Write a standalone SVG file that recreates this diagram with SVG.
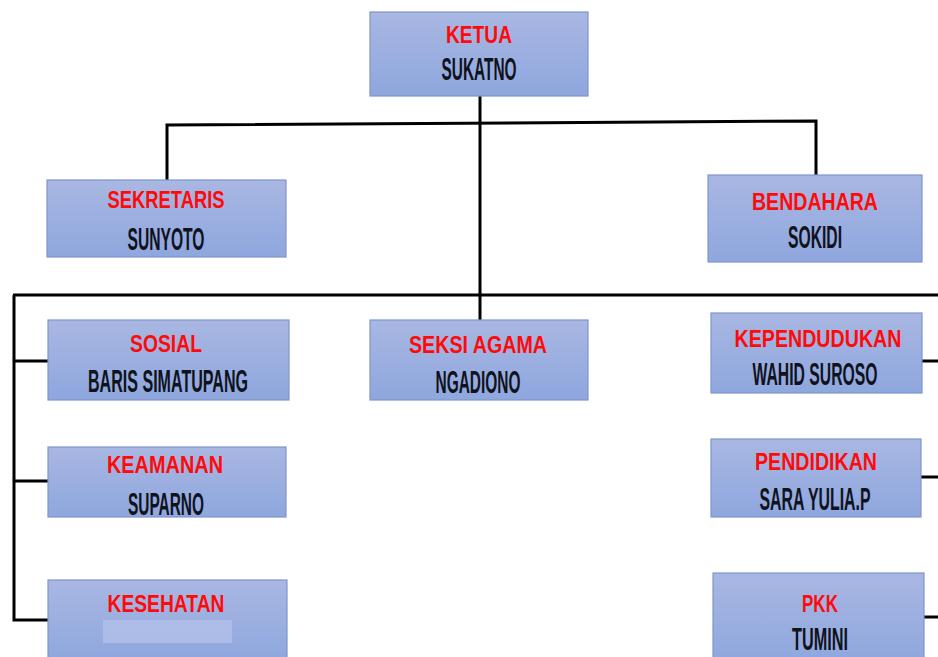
<svg xmlns="http://www.w3.org/2000/svg" width="938" height="657" viewBox="0 0 938 657">
<defs>
<linearGradient id="bg" x1="0" y1="0" x2="0" y2="1">
<stop offset="0" stop-color="#a9b7e2"/>
<stop offset="1" stop-color="#8ea7de"/>
</linearGradient>
<style>
.box{fill:url(#bg);stroke:#7f95cc;stroke-width:1.2}
.t{font-family:"Liberation Sans",Arial,sans-serif;font-weight:bold;font-size:24px;fill:#ff0a0a;text-anchor:middle}
.n{font-family:"Liberation Sans",Arial,sans-serif;font-weight:bold;font-size:32px;fill:#10121c;text-anchor:middle}
.c{fill:none;stroke:#000;stroke-width:3;stroke-linejoin:miter}
</style>
</defs>
<rect width="938" height="657" fill="#fff"/>
<g id="connectors">
<line class="c" x1="480" y1="96" x2="480" y2="320"/>
<polyline class="c" points="167,180 167,125 816,121 816,175"/>
<line class="c" x1="13" y1="295" x2="938" y2="295"/>
<polyline class="c" points="14,295 14,620 48,620"/>
<line class="c" x1="14" y1="361" x2="48" y2="361"/>
<line class="c" x1="14" y1="481" x2="48" y2="481"/>
<line class="c" x1="922" y1="361" x2="938" y2="361"/>
<line class="c" x1="921" y1="477" x2="938" y2="477"/>
<line class="c" x1="924" y1="617" x2="938" y2="617"/>
</g>
<g id="ketua">
<rect class="box" x="370" y="12" width="218" height="84"/>
<text class="t" x="479" y="43" textLength="66" lengthAdjust="spacingAndGlyphs">KETUA</text>
<text class="n" transform="translate(479,80) scale(0.5,1)" textLength="150" lengthAdjust="spacingAndGlyphs">SUKATNO</text>
</g>
<g id="sekretaris">
<rect class="box" x="47" y="180" width="239" height="77"/>
<text class="t" x="166" y="208" textLength="117" lengthAdjust="spacingAndGlyphs">SEKRETARIS</text>
<text class="n" transform="translate(166,250) scale(0.5,1)" textLength="154" lengthAdjust="spacingAndGlyphs">SUNYOTO</text>
</g>
<g id="bendahara">
<rect class="box" x="708" y="175" width="214" height="87"/>
<text class="t" x="815" y="210" textLength="126" lengthAdjust="spacingAndGlyphs">BENDAHARA</text>
<text class="n" transform="translate(815,248) scale(0.5,1)" textLength="108" lengthAdjust="spacingAndGlyphs">SOKIDI</text>
</g>
<g id="sosial">
<rect class="box" x="48" y="320" width="241" height="80"/>
<text class="t" x="166" y="352" textLength="72" lengthAdjust="spacingAndGlyphs">SOSIAL</text>
<text class="n" transform="translate(168,392) scale(0.5,1)" textLength="320" lengthAdjust="spacingAndGlyphs">BARIS SIMATUPANG</text>
</g>
<g id="seksi-agama">
<rect class="box" x="370" y="320" width="218" height="80"/>
<text class="t" x="478" y="353" textLength="138" lengthAdjust="spacingAndGlyphs">SEKSI AGAMA</text>
<text class="n" transform="translate(478,393) scale(0.5,1)" textLength="170" lengthAdjust="spacingAndGlyphs">NGADIONO</text>
</g>
<g id="kependudukan">
<rect class="box" x="711" y="313" width="211" height="80"/>
<text class="t" x="818" y="347" textLength="167" lengthAdjust="spacingAndGlyphs">KEPENDUDUKAN</text>
<text class="n" transform="translate(815,385) scale(0.5,1)" textLength="250" lengthAdjust="spacingAndGlyphs">WAHID SUROSO</text>
</g>
<g id="keamanan">
<rect class="box" x="48" y="447" width="238" height="70"/>
<text class="t" x="165" y="473" textLength="116" lengthAdjust="spacingAndGlyphs">KEAMANAN</text>
<text class="n" transform="translate(166,515) scale(0.5,1)" textLength="152" lengthAdjust="spacingAndGlyphs">SUPARNO</text>
</g>
<g id="pendidikan">
<rect class="box" x="711" y="439" width="210" height="78"/>
<text class="t" x="816" y="470" textLength="122" lengthAdjust="spacingAndGlyphs">PENDIDIKAN</text>
<text class="n" transform="translate(815,510) scale(0.5,1)" textLength="222" lengthAdjust="spacingAndGlyphs">SARA YULIA.P</text>
</g>
<g id="kesehatan">
<rect class="box" x="48" y="580" width="239" height="82"/>
<text class="t" x="166" y="612" textLength="117" lengthAdjust="spacingAndGlyphs">KESEHATAN</text>
<rect x="103" y="620" width="129" height="23" fill="#b3c0e8" opacity="0.8"/>
</g>
<g id="pkk">
<rect class="box" x="713" y="573" width="211" height="90"/>
<text class="t" x="820" y="612" textLength="36" lengthAdjust="spacingAndGlyphs">PKK</text>
<text class="n" transform="translate(820,650) scale(0.5,1)" textLength="112" lengthAdjust="spacingAndGlyphs">TUMINI</text>
</g>
</svg>
